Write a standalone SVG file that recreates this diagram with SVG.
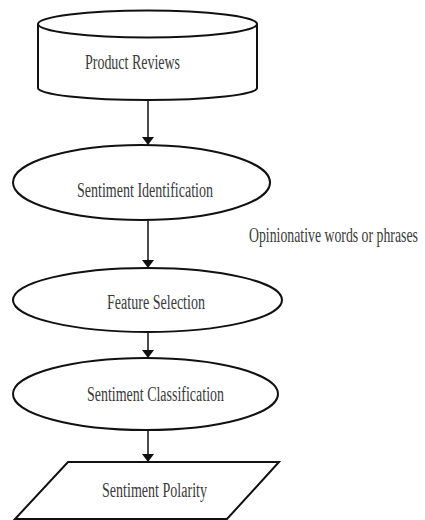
<svg xmlns="http://www.w3.org/2000/svg" width="425" height="520" viewBox="0 0 425 520">
<style>
.shape{fill:#fff;stroke:#111;stroke-width:2}
.lbl{font-family:"Liberation Serif","Times New Roman",serif;font-size:20px;fill:#3a3a3a;text-anchor:start}
.edge{stroke:#111;stroke-width:1.5;fill:none;marker-end:url(#arr)}
</style>
<defs>
<marker id="arr" viewBox="0 0 8 12" refX="8" refY="6" markerWidth="8" markerHeight="12" markerUnits="userSpaceOnUse" orient="auto">
<path d="M0,0 L8,6 L0,12 Z" fill="#111"/>
</marker>
</defs>
<rect width="425" height="520" fill="#fff"/>
<g id="connectors">
<line class="edge" x1="148" y1="100" x2="148" y2="145"/>
<line class="edge" x1="148" y1="220" x2="148" y2="268"/>
<line class="edge" x1="148" y1="332" x2="148" y2="358"/>
<line class="edge" x1="148" y1="430" x2="148" y2="462"/>
</g>
<g id="product-reviews">
<path class="shape" d="M38,24 L38,88 A109.5,12 0 0 0 257,88 L257,24"/>
<ellipse class="shape" cx="147.5" cy="24" rx="109.5" ry="13.5"/>
<text class="lbl" x="85" y="69" textLength="95" lengthAdjust="spacingAndGlyphs">Product Reviews</text>
</g>
<g id="sentiment-identification">
<ellipse class="shape" cx="141.5" cy="182.5" rx="128.5" ry="37.5"/>
<text class="lbl" x="77" y="197" textLength="136" lengthAdjust="spacingAndGlyphs">Sentiment Identification</text>
</g>
<g id="opinionative-label">
<text class="lbl" transform="translate(249,242) scale(0.69,1)" x="0" y="0">Opinionative words or phrases</text>
</g>
<g id="feature-selection">
<ellipse class="shape" cx="147.5" cy="300" rx="134.5" ry="32"/>
<text class="lbl" x="107" y="309" textLength="98" lengthAdjust="spacingAndGlyphs">Feature Selection</text>
</g>
<g id="sentiment-classification">
<ellipse class="shape" cx="145.5" cy="394" rx="132.5" ry="36"/>
<text class="lbl" x="87" y="401" textLength="137" lengthAdjust="spacingAndGlyphs">Sentiment Classification</text>
</g>
<g id="sentiment-polarity">
<polygon class="shape" points="68,462 279,462 227,519 15,519"/>
<text class="lbl" x="102" y="497" textLength="105" lengthAdjust="spacingAndGlyphs">Sentiment Polarity</text>
</g>
</svg>
